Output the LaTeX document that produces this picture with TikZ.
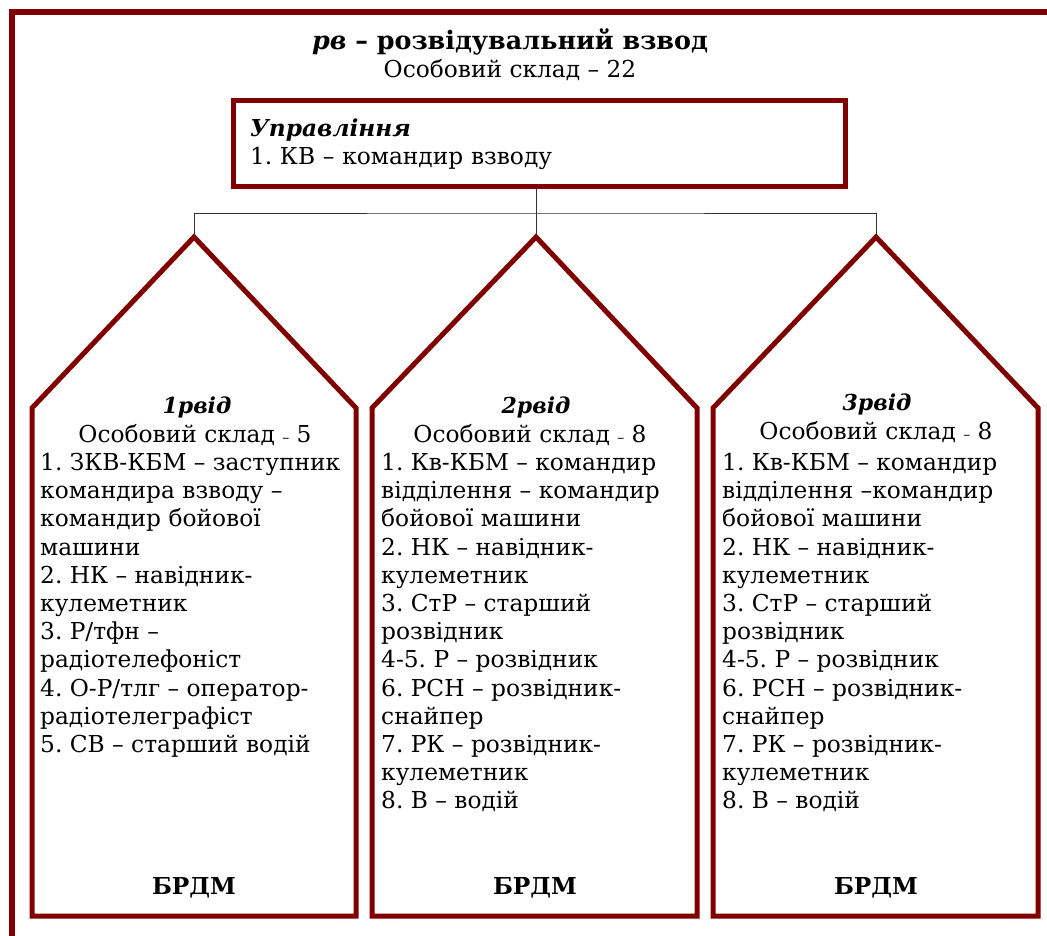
\documentclass[tikz,border=0pt]{standalone}
\usepackage{fontspec}
\setmainfont{DejaVu Serif}
\definecolor{maroon}{HTML}{800000}
\frenchspacing
\newcommand{\lowdash}{{\fontsize{14}{14}\selectfont –}}

\begin{document}
\begin{tikzpicture}[x=1pt, y=-1pt,
  every node/.style={font=\fontsize{23.3}{28.2}\selectfont, inner sep=0pt},
  frameline/.style={draw=maroon, line width=5.5pt},
  unitline/.style={draw=maroon, line width=5pt},
  link/.style={draw=black!80, line width=0.8pt},
  listtext/.style={anchor=north west, align=left},
  headtext/.style={font=\fontsize{22}{28.2}\selectfont\bfseries\itshape},
  cartext/.style={font=\fontsize{23.3}{28.2}\selectfont\bfseries}]
\useasboundingbox (0,0) rectangle (1047,936);

% outer frame, only top and left edge visible
\draw[frameline] (12,936) -- (12,12) -- (1047,12);

% title
\node[font=\fontsize{25.4}{28}\selectfont\bfseries] (title) at (510,42) {\textit{рв} – розвідувальний взвод};
\node (total) at (510,70) {Особовий склад – 22};

% command
\node[draw=maroon, line width=5pt, minimum width=612pt, minimum height=86pt, text width=578pt, align=left] (ctrl) at (539,144) {\textbf{\textit{Управління}}\\1. КВ – командир взводу};

% squads
\coordinate (t1) at (194,237);
\coordinate (t2) at (536,237);
\coordinate (t3) at (876,237);
\coordinate (split) at (536,213);

\draw[unitline] (32,916) -- (32,408) -- (t1) -- (356,408) -- (356,916) -- cycle;
\draw[unitline] (372,916) -- (372,408) -- (t2) -- (697,408) -- (697,916) -- cycle;
\draw[unitline] (713,916) -- (713,408) -- (t3) -- (1038,408) -- (1038,916) -- cycle;

\draw[link] (ctrl.south -| t2) -- (t2);
\draw[link] (t1) |- (split) -| (t3);

% 1st squad
\node[headtext] (h1) at (197,407) {1рвід};
\node (n1) at (195,435) {Особовий склад \lowdash{} 5};
\node[listtext] (l1) at (40,453) {1. ЗКВ-КБМ – заступник\\командира взводу –\\командир бойової\\машини\\2. НК – навідник-\\кулеметник\\3. Р/тфн –\\радіотелефоніст\\4. О-Р/тлг – оператор-\\радіотелеграфіст\\5. СВ – старший водій};
\node[cartext] (v1) at (194,888) {БРДМ};

% 2nd squad
\node[headtext] (h2) at (536,407) {2рвід};
\node (n2) at (530,435) {Особовий склад \lowdash{} 8};
\node[listtext] (l2) at (381,453) {1. Кв-КБМ – командир\\відділення – командир\\бойової машини\\2. НК – навідник-\\кулеметник\\3. СтР – старший\\розвідник\\4-5. Р – розвідник\\6. РСН – розвідник-\\снайпер\\7. РК – розвідник-\\кулеметник\\8. В – водій};
\node[cartext] (v2) at (535,888) {БРДМ};

% 3rd squad
\node[headtext] (h3) at (877,404) {3рвід};
\node (n3) at (876,432) {Особовий склад \lowdash{} 8};
\node[listtext] (l3) at (722,453) {1. Кв-КБМ – командир\\відділення –командир\\бойової машини\\2. НК – навідник-\\кулеметник\\3. СтР – старший\\розвідник\\4-5. Р – розвідник\\6. РСН – розвідник-\\снайпер\\7. РК – розвідник-\\кулеметник\\8. В – водій};
\node[cartext] (v3) at (876,888) {БРДМ};
\end{tikzpicture}
\end{document}
